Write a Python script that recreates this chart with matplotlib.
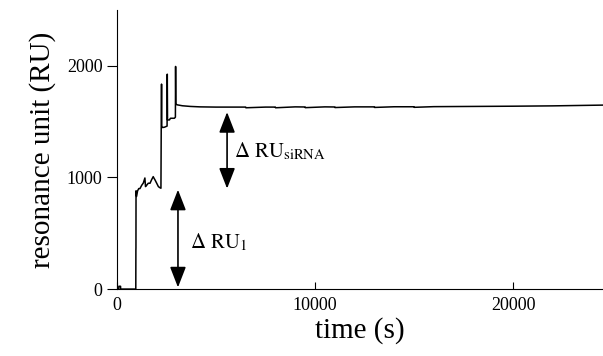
import numpy as np
import matplotlib.pyplot as plt

plt.rcParams['font.family'] = ['Liberation Serif', 'DejaVu Serif']
plt.rcParams['mathtext.fontset'] = 'stix'

# sensorgram trace (time in s, response in RU)
time_s = [0, 90, 95, 180, 185, 950, 955, 958, 962,
          990, 1040, 1100, 1160, 1250, 1330, 1410, 1440, 1500, 1580,
          1670, 1750, 1830, 1880, 1920, 2000, 2090, 2150, 2220, 2235,
          2250, 2262, 2300, 2400, 2530, 2540, 2552, 2650, 2700, 2900,
          2950, 2960, 2972, 3050, 3300, 3700, 4200, 5000, 6000, 6500,
          6510, 7500, 8000, 8010, 9000, 9500, 9510, 10500, 11000, 11010,
          12000, 13000, 13010, 14000, 15000, 15010, 16000, 17000, 18000,
          20000, 22000, 24600]
ru = [0, 0, 25, 25, 0, 0, 350, 370, 880,
      830, 880, 900, 900, 930, 950, 995, 918, 930, 948,
      948, 980, 1007, 990, 978, 950, 918, 910, 903, 1470,
      1836, 1460, 1447, 1450, 1460, 1925, 1515, 1515, 1530, 1530,
      1540, 1994, 1656, 1650, 1642, 1636, 1632, 1630, 1630, 1630,
      1624, 1630, 1630, 1624, 1632, 1631, 1625, 1632, 1631, 1626,
      1632, 1632, 1627, 1633, 1633, 1628, 1634, 1635, 1636,
      1638, 1641, 1648]

# delta-RU arrows (x position, bottom, top)
arrow_x = [3080, 5560]
arrow_lo = [15, 900]
arrow_hi = [890, 1585]
arrow_text = [r'$\Delta\ \mathrm{RU}_{1}$', r'$\Delta\ \mathrm{RU}_{\mathrm{siRNA}}$']
text_x = [3700, 5900]
text_y = [420, 1230]

fig = plt.figure(figsize=(6.03, 3.56), dpi=100)
ax = fig.add_axes([0.194, 0.188, 0.806, 0.784])

ax.plot(time_s, ru, color='black', lw=1.1)

for x, lo, hi in zip(arrow_x, arrow_lo, arrow_hi):
    ax.annotate('', xy=(x, hi), xytext=(x, lo),
                arrowprops=dict(arrowstyle='<|-|>,head_width=0.35,head_length=0.9',
                                color='black', lw=1.2, mutation_scale=14,
                                shrinkA=0, shrinkB=0))
for x, y, s in zip(text_x, text_y, arrow_text):
    ax.text(x, y, s, fontsize=15, va='center', ha='left')

ax.set_xlim(0, 24545)
ax.set_ylim(0, 2500)
ax.set_xticks([0, 10000, 20000])
ax.set_yticks([0, 1000, 2000])
ax.spines['top'].set_visible(False)
ax.spines['right'].set_visible(False)
ax.tick_params(axis='x', direction='in', length=5, labelsize=13, pad=6)
ax.tick_params(axis='y', direction='out', length=7, labelsize=13)
ax.set_xlabel('time (s)', fontsize=21, labelpad=2)
ax.set_ylabel('resonance unit (RU)', fontsize=21, labelpad=8)

fig.savefig('out.png', dpi=100)
